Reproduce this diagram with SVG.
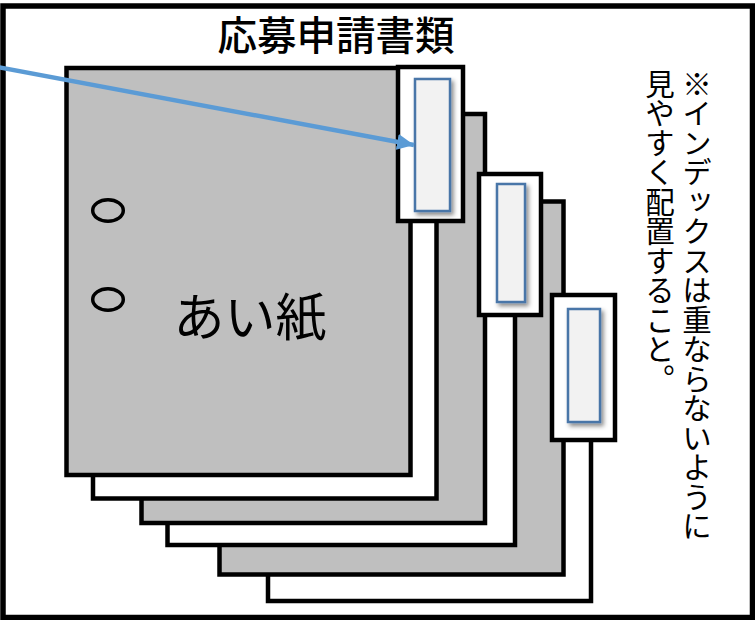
<svg xmlns="http://www.w3.org/2000/svg" width="755" height="620" viewBox="0 0 755 620">
  <style>
    .sheet { stroke: #000; stroke-width: 4.5; }
    .gray { fill: #bfbfbf; }
    .white { fill: #fff; }
    .tab { fill: #fff; stroke: #000; stroke-width: 4.5; }
    .label { fill: #f2f2f2; stroke: #4a76a8; stroke-width: 2.5; filter: url(#shadow); }
    .hole { fill: none; stroke: #000; stroke-width: 3.5; }
    .jp { font-family: "Noto Sans CJK JP", "Noto Sans", sans-serif; fill: #000; }
    .vert { writing-mode: vertical-rl; font-size: 29.5px; }
  </style>
  <defs>
    <filter id="shadow" x="-30%" y="-20%" width="160%" height="140%">
      <feDropShadow dx="2.5" dy="3" stdDeviation="2" flood-color="#000" flood-opacity="0.45"/>
    </filter>
    <marker id="arrowhead" markerUnits="userSpaceOnUse" markerWidth="18" markerHeight="16" refX="17" refY="8" orient="auto">
      <path d="M0,0 L17,8 L0,16 Z" fill="#5b9bd5"/>
    </marker>
  </defs>

  <rect x="0" y="0" width="755" height="620" fill="#fff"/>
  <!-- outer frame -->
  <rect id="frame" x="3" y="6" width="749.5" height="611.5" fill="none" stroke="#000" stroke-width="5.5"/>

  <!-- title -->
  <text id="title" class="jp" x="336" y="50" font-size="39.5" font-weight="500" text-anchor="middle">応募申請書類</text>

  <!-- stacked sheets, back to front -->
  <g id="sheet6"><rect class="sheet white" x="268" y="320" width="323" height="281"/></g>
  <g id="sheet5"><rect class="sheet gray" x="219.5" y="201.5" width="344" height="373"/></g>
  <g id="sheet4"><rect class="sheet white" x="167.5" y="200" width="347.5" height="345"/></g>
  <g id="sheet3"><rect class="sheet gray" x="141.5" y="114" width="343.5" height="409"/></g>
  <g id="sheet2"><rect class="sheet white" x="93" y="90" width="343.5" height="408.5"/></g>
  <g id="sheet1">
    <rect class="sheet gray" x="66.5" y="68" width="344" height="407"/>
    <ellipse class="hole" cx="108" cy="210.5" rx="15.3" ry="10.8"/>
    <ellipse class="hole" cx="108" cy="299.5" rx="15.3" ry="10.8"/>
    <text class="jp" x="250" y="336" font-size="51" text-anchor="middle">あい紙</text>
  </g>

  <!-- index tabs -->
  <g id="tab3">
    <rect class="tab" x="552" y="295" width="63" height="145"/>
    <rect class="label" x="568" y="309" width="32" height="113"/>
  </g>
  <g id="tab2">
    <rect class="tab" x="479" y="174" width="62" height="141"/>
    <rect class="label" x="497" y="184" width="28" height="118"/>
  </g>
  <g id="tab1">
    <rect class="tab" x="398" y="67" width="65" height="154"/>
    <rect class="label" x="415" y="79" width="35" height="132"/>
  </g>

  <!-- connectors -->
  <g id="connectors">
    <line x1="-2" y1="67.2" x2="414" y2="145" stroke="#5b9bd5" stroke-width="4.5" marker-end="url(#arrowhead)"/>
  </g>

  <!-- note -->
  <g id="note">
    <text class="jp vert" x="697" y="69">※インデックスは重ならないように</text>
    <text class="jp vert" x="660" y="69">見やすく配置すること。</text>
  </g>
</svg>
